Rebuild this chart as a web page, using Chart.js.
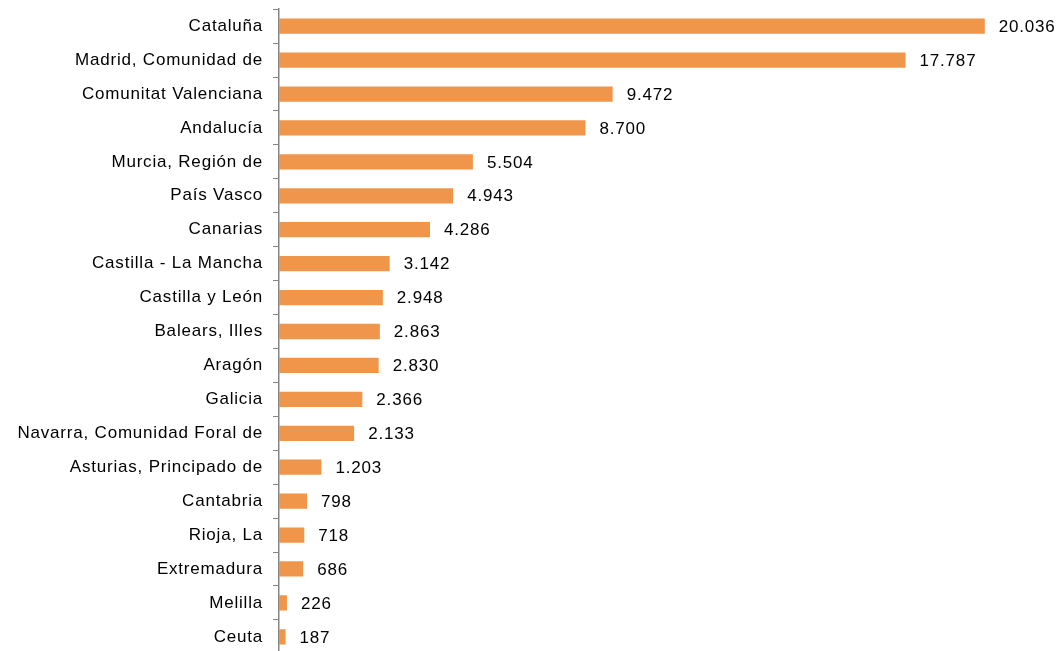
<!DOCTYPE html>
<html>
<head>
<meta charset="utf-8">
<script src="https://cdn.jsdelivr.net/npm/chart.js@4"></script>
<style>
    html, body { margin: 0; padding: 0; background: #fff; overflow: hidden; }
    #wrap { width: 1058px; height: 685px; position: relative; top: -11px; }
</style>
</head>
<body>
<div id="wrap"><canvas id="chart"></canvas></div>
<script>
// Regions and values
const regions = [
    'Cataluña', 'Madrid, Comunidad de', 'Comunitat Valenciana', 'Andalucía',
    'Murcia, Región de', 'País Vasco', 'Canarias', 'Castilla - La Mancha',
    'Castilla y León', 'Balears, Illes', 'Aragón', 'Galicia',
    'Navarra, Comunidad Foral de', 'Asturias, Principado de', 'Cantabria',
    'Rioja, La', 'Extremadura', 'Melilla', 'Ceuta'
];
const values = [20036, 17787, 9472, 8700, 5504, 4943, 4286, 3142, 2948, 2863,
    2830, 2366, 2133, 1203, 798, 718, 686, 226, 187];

const FONT = '"Liberation Sans", Arial, sans-serif';
const SPACING = '0.8px';

// Thousands with a dot
function formatNumber(n) {
    return String(n).replace(/\B(?=(\d{3})+(?!\d))/g, '.');
}

// The text in the picture is a bit wider than plain Arial
const wideText = {
    id: 'wideText',
    beforeUpdate(chart) { chart.ctx.letterSpacing = SPACING; },
    beforeDraw(chart) { chart.ctx.letterSpacing = SPACING; }
};

// Value labels at the end of each bar
const valueLabels = {
    id: 'valueLabels',
    afterDatasetsDraw(chart) {
        const ctx = chart.ctx;
        const meta = chart.getDatasetMeta(0);
        ctx.save();
        ctx.letterSpacing = SPACING;
        ctx.font = '17px ' + FONT;
        ctx.fillStyle = '#000';
        ctx.textAlign = 'left';
        ctx.textBaseline = 'middle';
        meta.data.forEach((bar, i) => {
            ctx.fillText(formatNumber(values[i]), bar.x + 14, bar.y + 1);
        });
        ctx.restore();
    }
};

new Chart(document.getElementById('chart'), {
    type: 'bar',
    data: {
        labels: regions,
        datasets: [{
            data: values,
            backgroundColor: '#F0964B',
            borderWidth: 0,
            barPercentage: 0.45,
            categoryPercentage: 1
        }]
    },
    options: {
        indexAxis: 'y',
        responsive: true,
        maintainAspectRatio: false,
        animation: false,
        layout: { padding: { top: 0, right: 4, bottom: 0, left: 0 } },
        plugins: {
            legend: { display: false },
            tooltip: { enabled: false }
        },
        scales: {
            x: {
                display: false,
                min: 0,
                max: 22000
            },
            y: {
                offset: true,
                afterFit(scale) { scale.width = 279; },
                grid: {
                    offset: true,
                    drawOnChartArea: false,
                    drawTicks: true,
                    tickLength: 6,
                    color: '#868686',
                    lineWidth: 1
                },
                border: { color: '#868686', width: 1.5 },
                ticks: {
                    color: '#000',
                    padding: 10,
                    font: { family: FONT, size: 17 }
                }
            }
        }
    },
    plugins: [wideText, valueLabels]
});
</script>
</body>
</html>
